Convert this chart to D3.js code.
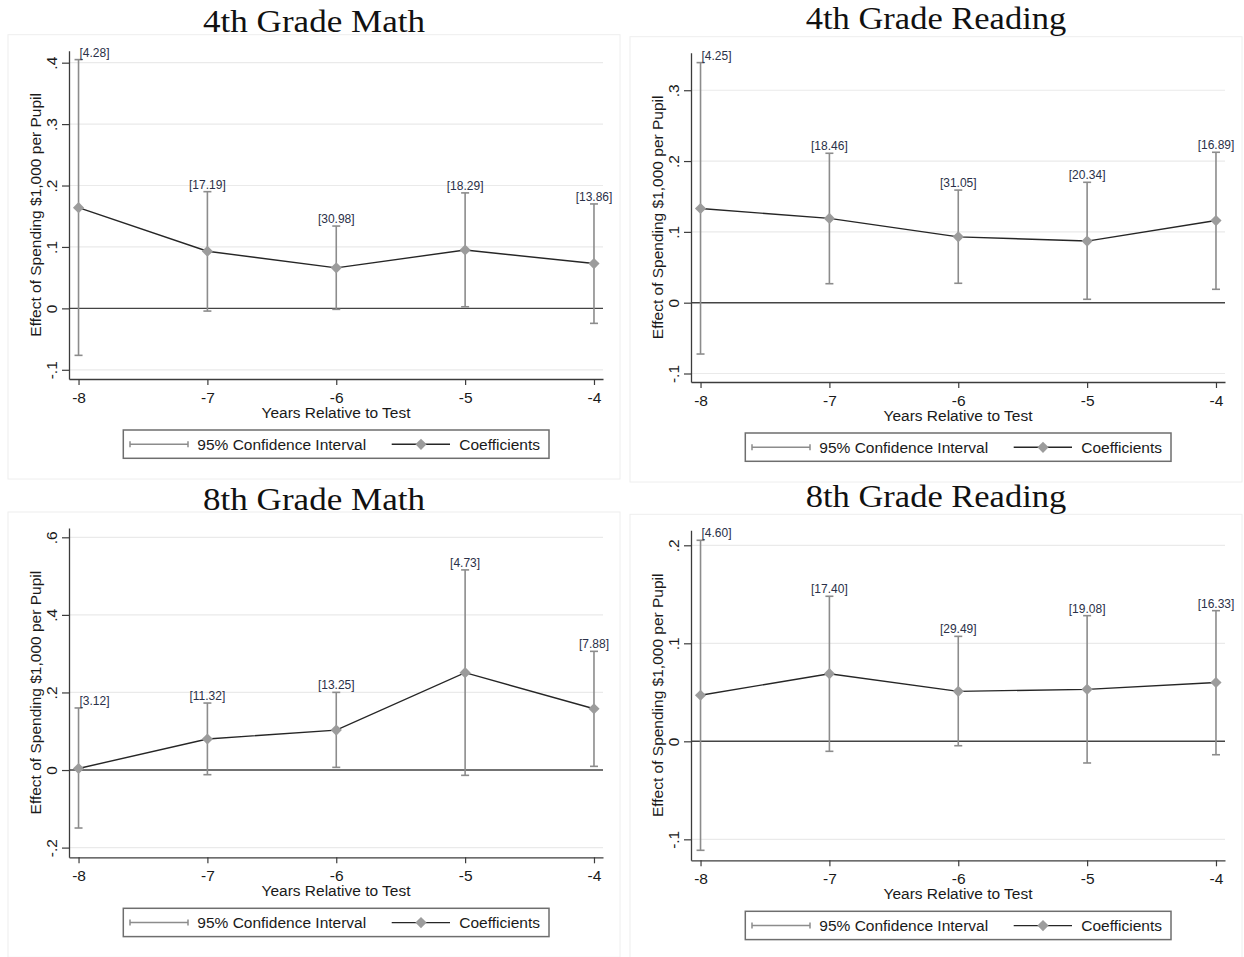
<!DOCTYPE html>
<html>
<head>
<meta charset="utf-8">
<script src="https://cdn.jsdelivr.net/npm/d3@7"></script>
<style>
  html, body { margin: 0; padding: 0; background: #fff; }
  svg { display: block; }
</style>
</head>
<body>
<svg id="chart" width="1244" height="957"></svg>
<script>
// ---- data -------------------------------------------------------------
const years = [-8, -7, -6, -5, -4];
const panelTitles = ["4th Grade Math", "4th Grade Reading", "8th Grade Math", "8th Grade Reading"];

const coefMath4 = [0.164, 0.093, 0.066, 0.095, 0.073];
const lowerMath4 = [-0.0765, -0.0044, -0.0016, 0.0026, -0.0244];
const upperMath4 = [0.405, 0.190, 0.134, 0.188, 0.170];
const fstatMath4 = ["4.28", "17.19", "30.98", "18.29", "13.86"];

const coefRead4 = [0.133, 0.119, 0.093, 0.087, 0.116];
const lowerRead4 = [-0.0725, 0.0268, 0.0274, 0.0048, 0.0189];
const upperRead4 = [0.339, 0.211, 0.159, 0.170, 0.2124];
const fstatRead4 = ["4.25", "18.46", "31.05", "20.34", "16.89"];

const coefMath8 = [0.004, 0.080, 0.103, 0.251, 0.158];
const lowerMath8 = [-0.1495, -0.0120, 0.0069, -0.0137, 0.0095];
const upperMath8 = [0.160, 0.1727, 0.2002, 0.516, 0.306];
const fstatMath8 = ["3.12", "11.32", "13.25", "4.73", "7.88"];

const coefRead8 = [0.047, 0.069, 0.051, 0.053, 0.060];
const lowerRead8 = [-0.1112, -0.0102, -0.0045, -0.0221, -0.0137];
const upperRead8 = [0.2051, 0.148, 0.1071, 0.1282, 0.1333];
const fstatRead8 = ["4.60", "17.40", "29.49", "19.08", "16.33"];

const yTicksMath4 = [-0.1, 0, 0.1, 0.2, 0.3, 0.4];
const yTicksRead4 = [-0.1, 0, 0.1, 0.2, 0.3];
const yTicksMath8 = [-0.2, 0, 0.2, 0.4, 0.6];
const yTicksRead8 = [-0.1, 0, 0.1, 0.2];

const xAxisTitle = "Years Relative to Test";
const yAxisTitle = "Effect of Spending $1,000 per Pupil";
const legendLabels = ["95% Confidence Interval", "Coefficients"];

// ---- panel layout -----------------------------------------------------
const panels = [
  { title: panelTitles[0], titleW: 222,   coef: coefMath4, lo: lowerMath4, hi: upperMath4, lab: fstatMath4,
    ticks: yTicksMath4, yDom: [-0.115, 0.4195], ox: 0,   top: 50.7,  bottom: 379,   titleY: 32.3 },
  { title: panelTitles[1], titleW: 260.5, coef: coefRead4, lo: lowerRead4, hi: upperRead4, lab: fstatRead4,
    ticks: yTicksRead4, yDom: [-0.112, 0.353],  ox: 622, top: 52.7,  bottom: 382,   titleY: 29.3 },
  { title: panelTitles[2], titleW: 222,   coef: coefMath8, lo: lowerMath8, hi: upperMath8, lab: fstatMath8,
    ticks: yTicksMath8, yDom: [-0.225, 0.624],  ox: 0,   top: 528,   bottom: 857.3, titleY: 510.3 },
  { title: panelTitles[3], titleW: 260.5, coef: coefRead8, lo: lowerRead8, hi: upperRead8, lab: fstatRead8,
    ticks: yTicksRead8, yDom: [-0.1214, 0.2153], ox: 622, top: 530.3, bottom: 860.3, titleY: 507.3 }
];

const SANS = "'Liberation Sans', Arial, Helvetica, sans-serif";
const SERIF = "'Liberation Serif', 'Times New Roman', serif";
const CI_COLOR = "#8c8c8c";
const LINE_COLOR = "#262626";
const MARK_COLOR = "#9c9c9c";
const AXIS_COLOR = "#3c3c3c";
const TEXT_COLOR = "#1a1a1a";

const svg = d3.select("#chart");

const fmtY = d => {
  if (Math.abs(d) < 1e-9) return "0";
  return d.toFixed(1).replace(/^(-?)0\./, "$1.");
};

panels.forEach(p => {
  const left = 69 + p.ox, right = 603 + p.ox;
  const g = svg.append("g");

  // faint frame of the graph region
  g.append("rect")
    .attr("x", 8 + p.ox).attr("y", p.top - 16)
    .attr("width", 612).attr("height", p.bottom - p.top + 116)
    .attr("fill", "none").attr("stroke", "#eeeeee").attr("stroke-width", 1);

  // title
  g.append("text")
    .attr("x", 314 + p.ox).attr("y", p.titleY)
    .attr("text-anchor", "middle")
    .attr("font-family", SERIF).attr("font-size", 31)
    .attr("fill", "#111")
    .attr("textLength", p.titleW).attr("lengthAdjust", "spacingAndGlyphs")
    .text(p.title);

  const x = d3.scaleLinear().domain([-8.074, -3.93]).range([left, right]);
  const y = d3.scaleLinear().domain(p.yDom).range([p.bottom, p.top]);

  // grid lines
  g.append("g").selectAll("line")
    .data(p.ticks.filter(v => Math.abs(v) > 1e-9))
    .join("line")
    .attr("x1", left).attr("x2", right)
    .attr("y1", d => y(d)).attr("y2", d => y(d))
    .attr("stroke", "#eaeaea").attr("stroke-width", 1.2);

  // zero reference line
  g.append("line")
    .attr("x1", left).attr("x2", right)
    .attr("y1", y(0)).attr("y2", y(0))
    .attr("stroke", "#444").attr("stroke-width", 1.4);

  // y axis
  const yAxis = g.append("g")
    .attr("transform", `translate(${left},0)`)
    .call(d3.axisLeft(y).tickValues(p.ticks).tickFormat(fmtY).tickSize(7).tickSizeOuter(0));
  yAxis.select(".domain").attr("stroke", AXIS_COLOR).attr("stroke-width", 1.3);
  yAxis.selectAll(".tick line").attr("stroke", AXIS_COLOR).attr("stroke-width", 1.2);
  yAxis.selectAll(".tick text")
    .attr("x", null).attr("dy", null)
    .attr("transform", "translate(-12,0) rotate(-90)")
    .attr("text-anchor", "middle")
    .attr("font-family", SANS).attr("font-size", 15.5).attr("fill", TEXT_COLOR);

  // x axis
  const xAxis = g.append("g")
    .attr("transform", `translate(0,${p.bottom})`)
    .call(d3.axisBottom(x).tickValues(years).tickFormat(d => String(d)).tickSize(6).tickPadding(7).tickSizeOuter(0));
  xAxis.select(".domain").attr("stroke", AXIS_COLOR).attr("stroke-width", 1.3);
  xAxis.selectAll(".tick line").attr("stroke", AXIS_COLOR).attr("stroke-width", 1.2);
  xAxis.selectAll(".tick text")
    .attr("font-family", SANS).attr("font-size", 15.5).attr("fill", TEXT_COLOR);

  // axis titles
  g.append("text")
    .attr("x", (left + right) / 2).attr("y", p.bottom + 39)
    .attr("text-anchor", "middle")
    .attr("font-family", SANS).attr("font-size", 15.5).attr("fill", TEXT_COLOR)
    .text(xAxisTitle);
  g.append("text")
    .attr("transform", `translate(${left - 28},${(p.top + p.bottom) / 2}) rotate(-90)`)
    .attr("text-anchor", "middle")
    .attr("font-family", SANS).attr("font-size", 15.5).attr("fill", TEXT_COLOR)
    .text(yAxisTitle);

  const rows = years.map((yr, i) => ({ yr, i, c: p.coef[i], lo: p.lo[i], hi: p.hi[i], lab: p.lab[i] }));

  // confidence intervals
  const ci = g.append("g").attr("stroke", CI_COLOR).attr("stroke-width", 1.6).attr("fill", "none");
  ci.selectAll("line.bar").data(rows).join("line").attr("class", "bar")
    .attr("x1", d => x(d.yr)).attr("x2", d => x(d.yr))
    .attr("y1", d => y(d.lo)).attr("y2", d => y(d.hi));
  ci.selectAll("line.capHi").data(rows).join("line").attr("class", "capHi")
    .attr("x1", d => x(d.yr) - 4).attr("x2", d => x(d.yr) + 4)
    .attr("y1", d => y(d.hi)).attr("y2", d => y(d.hi));
  ci.selectAll("line.capLo").data(rows).join("line").attr("class", "capLo")
    .attr("x1", d => x(d.yr) - 4).attr("x2", d => x(d.yr) + 4)
    .attr("y1", d => y(d.lo)).attr("y2", d => y(d.lo));

  // coefficient line and markers
  g.append("path").datum(rows)
    .attr("fill", "none").attr("stroke", LINE_COLOR).attr("stroke-width", 1.4)
    .attr("d", d3.line().x(d => x(d.yr)).y(d => y(d.c)));
  g.append("g").selectAll("path").data(rows).join("path")
    .attr("transform", d => `translate(${x(d.yr)},${y(d.c)})`)
    .attr("d", d3.symbol(d3.symbolDiamond2, 80))
    .attr("fill", MARK_COLOR);

  // bracketed labels over the upper bound
  g.append("g").selectAll("text").data(rows).join("text")
    .attr("x", d => d.i === 0 ? x(d.yr) + 1 : x(d.yr))
    .attr("y", d => y(d.hi) - 3)
    .attr("text-anchor", d => d.i === 0 ? "start" : "middle")
    .attr("font-family", SANS).attr("font-size", 12).attr("fill", "#2a3048")
    .text(d => `[${d.lab}]`);

  // legend
  const ly = p.bottom + 51;
  const lg = g.append("g");
  lg.append("rect")
    .attr("x", 123.3 + p.ox).attr("y", ly)
    .attr("width", 425.7).attr("height", 28.3)
    .attr("fill", "#fff").attr("stroke", "#6e6e6e").attr("stroke-width", 1.5);
  const my = ly + 14.3;
  lg.append("line").attr("x1", 130 + p.ox).attr("x2", 188 + p.ox).attr("y1", my).attr("y2", my)
    .attr("stroke", CI_COLOR).attr("stroke-width", 1.5);
  [130, 188].forEach(cx => lg.append("line")
    .attr("x1", cx + p.ox).attr("x2", cx + p.ox).attr("y1", my - 3).attr("y2", my + 3)
    .attr("stroke", CI_COLOR).attr("stroke-width", 1.5));
  lg.append("text").attr("x", 197.3 + p.ox).attr("y", ly + 20)
    .attr("font-family", SANS).attr("font-size", 15.5).attr("fill", TEXT_COLOR)
    .text(legendLabels[0]);
  lg.append("line").attr("x1", 391.7 + p.ox).attr("x2", 450 + p.ox).attr("y1", my).attr("y2", my)
    .attr("stroke", LINE_COLOR).attr("stroke-width", 1.4);
  lg.append("path").attr("transform", `translate(${421 + p.ox},${my})`)
    .attr("d", d3.symbol(d3.symbolDiamond2, 80)).attr("fill", MARK_COLOR);
  lg.append("text").attr("x", 459.3 + p.ox).attr("y", ly + 20)
    .attr("font-family", SANS).attr("font-size", 15.5).attr("fill", TEXT_COLOR)
    .text(legendLabels[1]);
});
</script>
</body>
</html>
